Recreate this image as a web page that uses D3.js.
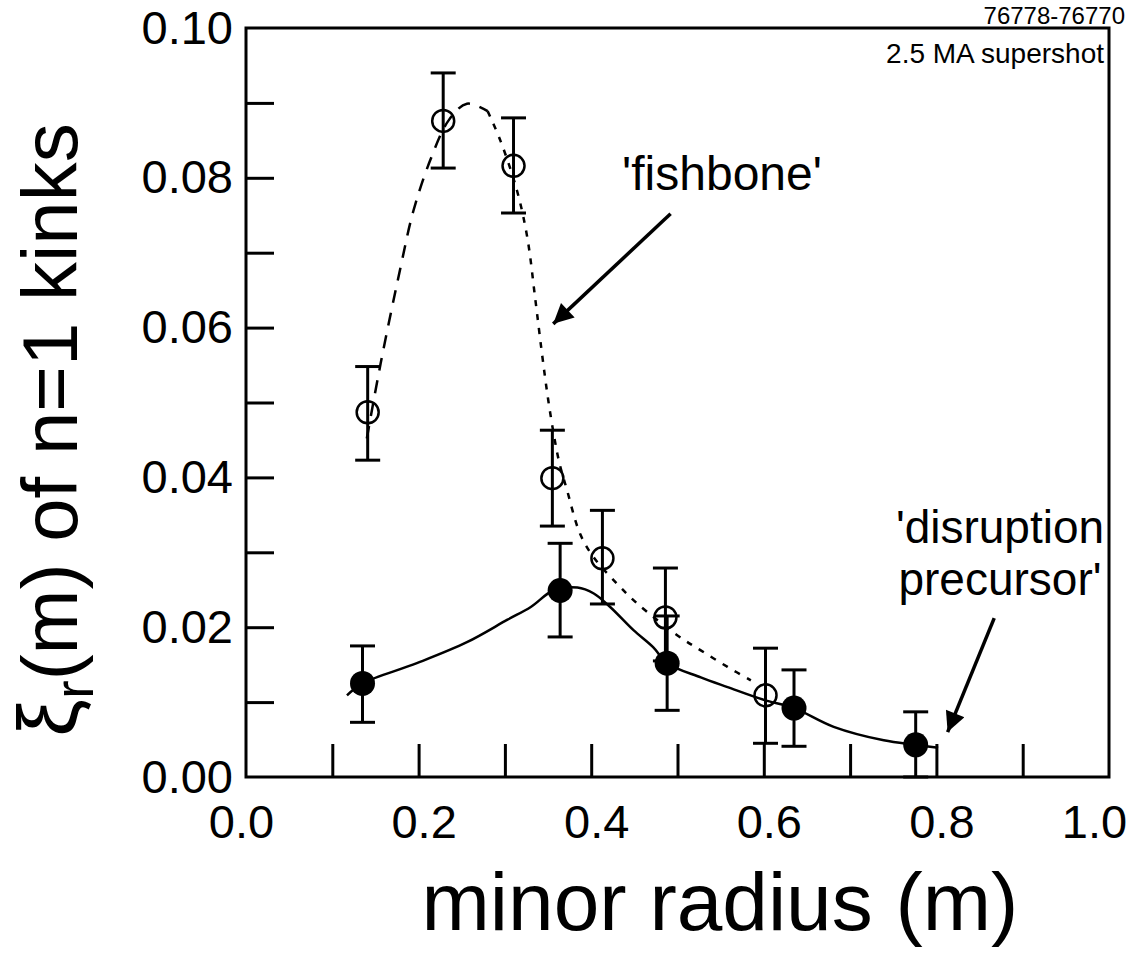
<!DOCTYPE html>
<html>
<head>
<meta charset="utf-8">
<script src="https://cdn.jsdelivr.net/npm/d3@7"></script>
<style>
  body { margin: 0; background: #fff; }
  svg { display: block; font-family: "Liberation Sans", Arial, Helvetica, sans-serif; }
</style>
</head>
<body>
<div id="chart"></div>
<script>
/* n=1 kink displacement vs minor radius, 2.5 MA supershot */

// open circles: 'fishbone'
const fishR  = [0.141, 0.2285, 0.310, 0.355, 0.413, 0.486, 0.602];
const fishXi = [0.0487, 0.0876, 0.0816, 0.0399, 0.0292, 0.0213, 0.0109];
const fishLo = [0.0423, 0.0813, 0.0753, 0.0335, 0.0231, 0.0155, 0.0045];
const fishHi = [0.0548, 0.0940, 0.0880, 0.0463, 0.0356, 0.0279, 0.0172];

// filled circles: 'disruption precursor'
const disR  = [0.135, 0.364, 0.488, 0.635, 0.776];
const disXi = [0.0125, 0.0249, 0.0152, 0.0092, 0.0043];
const disLo = [0.0073, 0.0187, 0.0089, 0.0041, 0.0000];
const disHi = [0.0175, 0.0312, 0.0215, 0.0143, 0.0087];

// hand drawn fit curves
const fishFitR  = [0.140, 0.156, 0.179, 0.194, 0.214, 0.235, 0.256, 0.280, 0.295, 0.314, 0.326, 0.335, 0.343, 0.350, 0.357, 0.363, 0.372, 0.387, 0.403, 0.430, 0.453, 0.500, 0.527, 0.558, 0.585];
const fishFitXi = [0.0452, 0.0552, 0.0680, 0.0756, 0.0825, 0.0877, 0.0899, 0.0889, 0.0849, 0.0783, 0.0720, 0.0640, 0.0565, 0.0505, 0.0455, 0.0420, 0.0383, 0.0325, 0.0293, 0.0258, 0.0232, 0.0189, 0.0169, 0.0147, 0.0129];
const disFitR  = [0.117, 0.135, 0.198, 0.256, 0.303, 0.330, 0.356, 0.384, 0.403, 0.422, 0.449, 0.472, 0.488, 0.527, 0.558, 0.600, 0.635, 0.681, 0.739, 0.776, 0.802];
const disFitXi = [0.0109, 0.0125, 0.0152, 0.0180, 0.0210, 0.0227, 0.0249, 0.0253, 0.0245, 0.0227, 0.0196, 0.0173, 0.0152, 0.0133, 0.0120, 0.0103, 0.0092, 0.0067, 0.0049, 0.0043, 0.0039];

const xMinorTicks = [0.1, 0.2, 0.3, 0.4, 0.5, 0.6, 0.7, 0.8, 0.9];
const xLabels = [0.0, 0.2, 0.4, 0.6, 0.8, 1.0];
const yMinorTicks = [0.01, 0.02, 0.03, 0.04, 0.05, 0.06, 0.07, 0.08, 0.09];
const yLabels = [0.00, 0.02, 0.04, 0.06, 0.08, 0.10];

const width = 1145, height = 957,
    margin = ({top: 28, right: 36, bottom: 180, left: 246});

let svg = d3.select('#chart')
    .append('svg')
    .attr('width', width)
    .attr('height', height)
    .attr('viewBox', [0, 0, width, height]);

let x = d3.scaleLinear()
    .domain([0, 1])
    .range([margin.left, width - margin.right]);

let y = d3.scaleLinear()
    .domain([0, 0.10])
    .range([height - margin.bottom, margin.top]);

// inward ticks
svg.append('g')
    .attr('transform', `translate(0, ${y(0)})`)
    .call(d3.axisBottom(x).tickValues(xMinorTicks).tickSize(-33).tickFormat(''))
    .call(g => g.select('.domain').remove())
    .call(g => g.selectAll('line').attr('stroke', '#000').attr('stroke-width', 3));

svg.append('g')
    .attr('transform', `translate(${x(0)}, 0)`)
    .call(d3.axisLeft(y).tickValues(yMinorTicks).tickSize(-28).tickFormat(''))
    .call(g => g.select('.domain').remove())
    .call(g => g.selectAll('line').attr('stroke', '#000').attr('stroke-width', 3));

// tick labels
svg.append('g')
    .attr('transform', `translate(0, ${y(0)})`)
    .call(d3.axisBottom(x).tickValues(xLabels).tickSize(0).tickPadding(28).tickFormat(d3.format('.1f')))
    .call(g => g.select('.domain').remove())
    .call(g => g.selectAll('text').attr('font-size', 47).attr('fill', '#000')
        .attr('font-family', '"Liberation Sans", Arial, sans-serif')
        .attr('dx', d => d === 1 ? -15 : (d === 0 ? -5 : 5)));

svg.append('g')
    .attr('transform', `translate(${x(0)}, 0)`)
    .call(d3.axisLeft(y).tickValues(yLabels).tickSize(0).tickPadding(13).tickFormat(d3.format('.2f')))
    .call(g => g.select('.domain').remove())
    .call(g => g.selectAll('text').attr('font-size', 47).attr('fill', '#000')
        .attr('font-family', '"Liberation Sans", Arial, sans-serif'));

// frame
svg.append('rect')
    .attr('x', x(0)).attr('y', y(0.10))
    .attr('width', x(1) - x(0)).attr('height', y(0) - y(0.10))
    .attr('fill', 'none').attr('stroke', '#000').attr('stroke-width', 3);

// fit curves
const line = d3.line()
    .x(d => x(d[0]))
    .y(d => y(d[1]))
    .curve(d3.curveCatmullRom);

const fishFit = fishFitR.map((r, i) => [r, fishFitXi[i]]);
const split = 8;
svg.append('path')
    .datum(fishFit.slice(0, split))
    .attr('d', line)
    .attr('fill', 'none').attr('stroke', '#000').attr('stroke-width', 2.5)
    .attr('stroke-dasharray', '13,10');
svg.append('path')
    .datum(fishFit.slice(split - 1))
    .attr('d', line)
    .attr('fill', 'none').attr('stroke', '#000').attr('stroke-width', 2.5)
    .attr('stroke-dasharray', '6,8');

svg.append('path')
    .datum(disFitR.map((r, i) => [r, disFitXi[i]]))
    .attr('d', line)
    .attr('fill', 'none').attr('stroke', '#000').attr('stroke-width', 2.5);

// error bars
function errorBars(rs, lo, hi) {
    let g = svg.append('g').attr('stroke', '#000').attr('stroke-width', 3);
    rs.forEach((r, i) => {
        g.append('line').attr('x1', x(r)).attr('x2', x(r)).attr('y1', y(lo[i])).attr('y2', y(hi[i]));
        g.append('line').attr('x1', x(r) - 12.5).attr('x2', x(r) + 12.5).attr('y1', y(lo[i])).attr('y2', y(lo[i]));
        g.append('line').attr('x1', x(r) - 12.5).attr('x2', x(r) + 12.5).attr('y1', y(hi[i])).attr('y2', y(hi[i]));
    });
}
errorBars(fishR, fishLo, fishHi);
errorBars(disR, disLo, disHi);

// points
svg.append('g')
    .selectAll('circle')
    .data(fishR)
    .join('circle')
    .attr('cx', d => x(d))
    .attr('cy', (d, i) => y(fishXi[i]))
    .attr('r', 11)
    .attr('fill', 'none')
    .attr('stroke', '#000')
    .attr('stroke-width', 2.5);

svg.append('g')
    .selectAll('circle')
    .data(disR)
    .join('circle')
    .attr('cx', d => x(d))
    .attr('cy', (d, i) => y(disXi[i]))
    .attr('r', 12.5)
    .attr('fill', '#000');

// annotations
svg.append('defs').append('marker')
    .attr('id', 'head')
    .attr('viewBox', '0 0 10 10')
    .attr('refX', 10).attr('refY', 5)
    .attr('markerWidth', 32).attr('markerHeight', 20)
    .attr('markerUnits', 'userSpaceOnUse')
    .attr('orient', 'auto')
    .append('path')
    .attr('d', 'M0,0 L10,5 L0,10 Z')
    .attr('fill', '#000');

function arrow(x1, y1, x2, y2) {
    svg.append('line')
        .attr('x1', x(x1)).attr('y1', y(y1))
        .attr('x2', x(x2)).attr('y2', y(y2))
        .attr('stroke', '#000').attr('stroke-width', 3.5)
        .attr('marker-end', 'url(#head)');
}
arrow(0.492, 0.0752, 0.356, 0.0605);
arrow(0.867, 0.0212, 0.813, 0.0060);

svg.append('text')
    .attr('x', 722).attr('y', 190)
    .attr('text-anchor', 'middle')
    .attr('font-size', 48)
    .text("'fishbone'");

svg.append('text')
    .attr('x', 1000).attr('y', 543)
    .attr('text-anchor', 'middle')
    .attr('font-size', 46)
    .text("'disruption");
svg.append('text')
    .attr('x', 1000).attr('y', 595)
    .attr('text-anchor', 'middle')
    .attr('font-size', 46)
    .text("precursor'");

svg.append('text')
    .attr('x', 1104).attr('y', 63)
    .attr('text-anchor', 'end')
    .attr('font-size', 28)
    .text('2.5 MA supershot');

svg.append('text')
    .attr('x', 1125).attr('y', 24)
    .attr('text-anchor', 'end')
    .attr('font-size', 24)
    .text('76778-76770');

// axis titles
svg.append('text')
    .attr('x', 720).attr('y', 930)
    .attr('text-anchor', 'middle')
    .attr('font-size', 82)
    .text('minor radius (m)');

let yt = svg.append('text')
    .attr('transform', 'translate(77, 430) rotate(-90)')
    .attr('text-anchor', 'middle')
    .attr('font-size', 78);
yt.append('tspan').attr('font-size', 84).text('\u03BE');
yt.append('tspan').attr('font-size', 56).attr('dy', 16).text('r');
yt.append('tspan').attr('dy', -16).text('(m) of n=1 kinks');
</script>
</body>
</html>
